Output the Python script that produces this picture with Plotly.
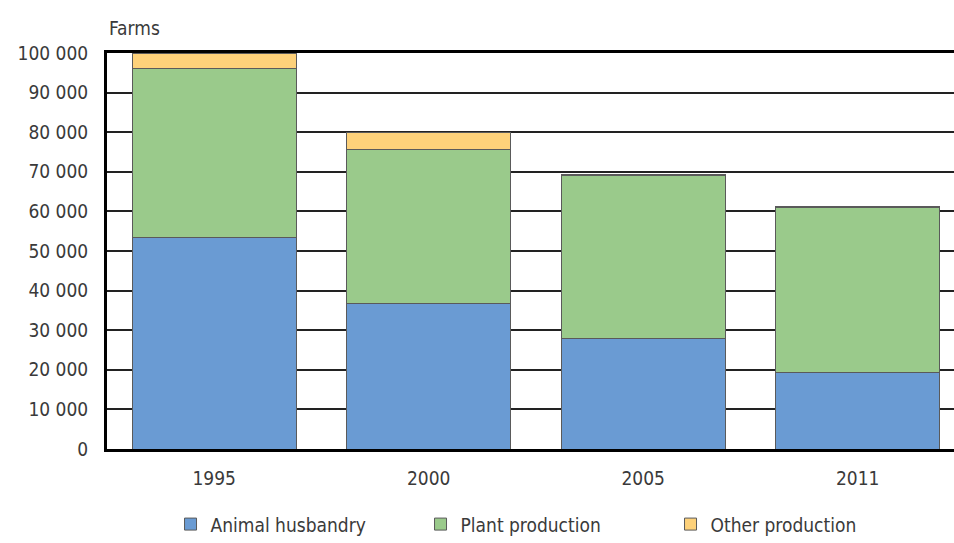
import plotly.graph_objects as go

years = ["1995", "2000", "2005", "2011"]
animal = [53500, 36700, 28000, 19300]
plant = [42500, 38900, 41000, 41700]
other = [4000, 4200, 400, 300]

y_ticks = [0, 10000, 20000, 30000, 40000, 50000, 60000, 70000, 80000, 90000, 100000]
y_tick_labels = ["0", "10 000", "20 000", "30 000", "40 000", "50 000",
                 "60 000", "70 000", "80 000", "90 000", "100 000"]

font_family = "DejaVu Sans Condensed, Liberation Sans Narrow, Arial Narrow, sans-serif"
text_color = "#3a3a3a"
fsize = 19
outline = dict(color="#5a5a5a", width=1)

fig = go.Figure()
fig.add_trace(go.Bar(x=years, y=animal, name="Animal husbandry",
                     marker=dict(color="#6a9bd3", line=outline)))
fig.add_trace(go.Bar(x=years, y=plant, name="Plant production",
                     marker=dict(color="#9aca8b", line=outline)))
fig.add_trace(go.Bar(x=years, y=other, name="Other production",
                     marker=dict(color="#fdd17a", line=outline)))

fig.update_layout(
    barmode="stack",
    bargap=0.235,
    width=954, height=543,
    margin=dict(l=107, r=0, t=53, b=94, autoexpand=False),
    paper_bgcolor="white",
    plot_bgcolor="white",
    font=dict(family=font_family, size=fsize, color=text_color),
    showlegend=True,
    legend=dict(orientation="h", x=0.075, xanchor="left", y=-0.19, yanchor="middle",
                font=dict(size=fsize, color=text_color), itemwidth=30,
                entrywidth=205, entrywidthmode="pixels",
                traceorder="normal"),
    annotations=[dict(text="Farms", xref="paper", yref="paper", x=0.0, y=1.0,
                      xanchor="left", yanchor="middle", yshift=25, showarrow=False,
                      font=dict(size=fsize, color=text_color))],
)
fig.update_xaxes(type="category", range=[-0.5, 3.449], showline=True, mirror=True,
                 linecolor="black", linewidth=3, showgrid=False, ticks="",
                 ticklabelstandoff=10,
                 tickfont=dict(size=fsize, color=text_color))
fig.update_yaxes(range=[0, 100000], tickvals=y_ticks, ticktext=y_tick_labels,
                 showgrid=True, gridcolor="#222222", gridwidth=2,
                 showline=True, linecolor="black", linewidth=3,
                 ticks="", ticklen=0, zeroline=False,
                 ticklabelstandoff=12,
                 tickfont=dict(size=fsize, color=text_color))

fig.write_html("out.html", config={"displayModeBar": False},
               post_script="document.body.style.margin='0';document.body.style.overflow='hidden';")
